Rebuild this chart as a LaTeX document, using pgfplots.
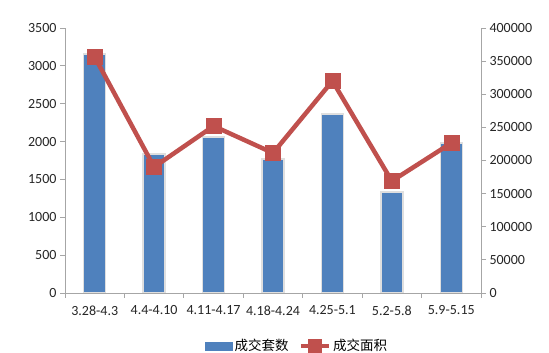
\documentclass[border=0pt]{standalone}
\usepackage{pgfplots}
\pgfplotsset{compat=1.18}
\usepackage{fontspec}
\setmainfont{Carlito}
\newfontfamily\cjk{Noto Sans CJK SC}
\definecolor{barblue}{HTML}{4F81BD}
\definecolor{linered}{HTML}{C0504D}
\definecolor{axgray}{HTML}{A6A6A6}
\begin{document}
\begin{tikzpicture}
\fill[white] (0pt,0pt) rectangle (549pt,353pt);
\coordinate (O) at (65pt,60pt);
\begin{axis}[
  at={(O)}, anchor=origin,
  scale only axis, width=416pt, height=265pt,
  xmin=0, xmax=7, ymin=0, ymax=3500,
  axis x line*=bottom, axis y line*=left,
  axis line style={axgray, line width=0.8pt},
  xtick={0.5,1.5,...,6.5},
  xticklabels={3.28-4.3,4.4-4.10,4.11-4.17,4.18-4.24,4.25-5.1,5.2-5.8,5.9-5.15},
  major x tick style={draw=none},
  minor xtick={0,1,...,7},
  minor tick length=5pt,
  minor x tick style={axgray, line width=0.8pt},
  ytick={0,500,...,3500},
  major tick length=5pt,
  tick align=outside,
  y tick style={axgray, line width=0.8pt},
  tick label style={font=\fontsize{14}{16}\selectfont, text=black!85},
  /pgf/number format/assume math mode=true,
  /pgf/number format/set thousands separator={},
  ybar, bar width=22pt,
  xticklabel style={yshift=-4pt},
]
\addplot[fill=barblue, draw=gray!25, line width=1.5pt] coordinates {
  (0.5,3157) (1.5,1836) (2.5,2060) (3.5,1770) (4.5,2364) (5.5,1334) (6.5,1981)};
\end{axis}
\begin{axis}[
  at={(O)}, anchor=origin,
  scale only axis, width=416pt, height=265pt,
  xmin=0, xmax=7, ymin=0, ymax=400000,
  axis x line=none, axis y line*=right,
  axis line style={axgray, line width=0.8pt},
  ytick={0,50000,...,400000},
  scaled y ticks=false,
  major tick length=5pt,
  tick align=outside,
  y tick style={axgray, line width=0.8pt},
  tick label style={font=\fontsize{14}{16}\selectfont, text=black!85},
  /pgf/number format/assume math mode=true,
  /pgf/number format/set thousands separator={},
  /pgf/number format/fixed,
  legend style={at={(0.558,-0.2)}, anchor=center, draw=none, fill=none,
    legend columns=2, font=\cjk\fontsize{13.5}{15}\selectfont,
    /tikz/every even column/.append style={column sep=8pt}},
  legend cell align=left,
]
\addlegendimage{legend image code/.code={\fill[barblue] (0pt,-4pt) rectangle (27pt,4pt);}}
\addlegendentry{成交套数}
\addplot[linered, line width=4.5pt, mark=square*, mark size=7.5pt,
  mark options={line width=0.5pt, fill=linered},
  legend image code/.code={\draw[linered, line width=4.5pt] (0pt,0pt) -- (28pt,0pt);
    \fill[linered] (9pt,-5pt) rectangle (19pt,5pt);}]
  coordinates {(0.5,356200) (1.5,190200) (2.5,252000) (3.5,211300) (4.5,320000) (5.5,169000) (6.5,226400)};
\addlegendentry{成交面积}
\end{axis}
\pgfresetboundingbox
\path (0pt,0pt) rectangle (549pt,353pt);
\end{tikzpicture}
\end{document}
